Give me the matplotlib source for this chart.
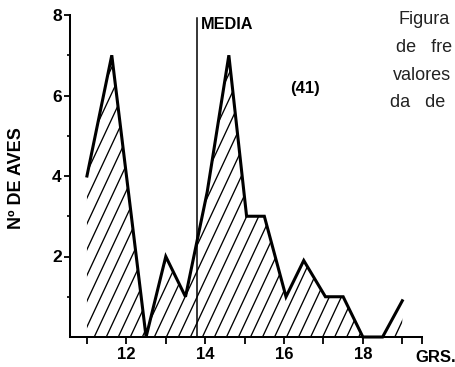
import matplotlib

matplotlib.use("Agg")

import matplotlib.pyplot as plt
import numpy as np
from matplotlib.collections import LineCollection
from matplotlib.patches import Polygon

plt.rcParams["font.family"] = ["Liberation Sans", "DejaVu Sans"]

# frequency polygon (weight in grams, number of birds)
weights = [11.0, 11.63, 12.5, 13.0, 13.5, 14.05, 14.6, 15.05, 15.5,
           16.05, 16.5, 17.05, 17.5, 18.0, 18.5, 19.0]
n_birds = [4, 7, 0, 2, 1, 3.6, 7, 3, 3, 1, 1.9, 1, 1, 0, 0, 0.9]
media = 13.8
n_total = "(41)"
x_ticks = [11, 12, 13, 14, 15, 16, 17, 18, 19, 19.5]
x_labels = ["", "12", "", "14", "", "16", "", "18", "", ""]
y_major = [2, 4, 6, 8]
y_minor = [1, 3, 5, 7]
caption = ["Figura", "de   fre", "valores", "da   de"]
caption_x = [398, 396, 393, 390]      # pixels from left
caption_base = [24, 52, 80, 107]      # baseline, pixels from top

W, H = 455, 367
fig = plt.figure(figsize=(W / 100, H / 100), dpi=100)
ax = fig.add_axes([70 / W, 1 - 337 / H, 352 / W, 322 / H])
ax.set_xlim(10.57, 19.5)
ax.set_ylim(0, 8)

# hatched area under the polygon
verts = np.column_stack([
    [weights[0]] + weights + [weights[-1]],
    [0] + n_birds + [0],
])
area = Polygon(verts, closed=True, facecolor="none", edgecolor="none")
ax.add_patch(area)
slope = 2.1
step = 0.305
segs = [[(x0, 0), (x0 + 9 / slope, 9)] for x0 in np.arange(weights[0] - 5, weights[-1] + 0.5, step)]
hatch = LineCollection(segs, colors="black", linewidths=0.95)
ax.add_collection(hatch)
hatch.set_clip_path(area)

ax.plot(weights, n_birds, color="black", lw=2.2, solid_joinstyle="miter", clip_on=False)

ax.plot([media, media], [0, 7.92], color="black", lw=1.1, clip_on=False)
ax.text(media + 0.09, 7.77, "MEDIA", fontsize=11.7, fontweight="bold", va="center", ha="left")
ax.text(16.53, 6.18, n_total, fontsize=12, fontweight="bold", va="center", ha="center")

for spine in ["top", "right"]:
    ax.spines[spine].set_visible(False)
for spine in ["left", "bottom"]:
    ax.spines[spine].set_linewidth(1.45)

ax.set_xticks(x_ticks)
ax.set_xticklabels(x_labels, fontsize=12, fontweight="bold")
ax.set_yticks(y_major)
ax.set_yticklabels([str(v) for v in y_major], fontsize=12.5, fontweight="bold")
ax.set_yticks(y_minor, minor=True)
ax.tick_params(axis="x", length=5, width=1.3, pad=2.5)
ax.tick_params(axis="y", which="major", length=4.5, width=1.3, pad=1.5)
ax.tick_params(axis="y", which="minor", length=2.4, width=1.2)

ax.set_ylabel("Nº DE AVES", fontsize=13, fontweight="bold")
ax.yaxis.set_label_coords(-0.128, 0.494)

fig.text(415 / W, 1 - 358 / H, "GRS.", fontsize=12, fontweight="bold", va="center", ha="left")

for line, px, base in zip(caption, caption_x, caption_base):
    fig.text(px / W, 1 - base / H, line, fontsize=13, color="#222222",
             va="baseline", ha="left")

fig.savefig("out.png")
